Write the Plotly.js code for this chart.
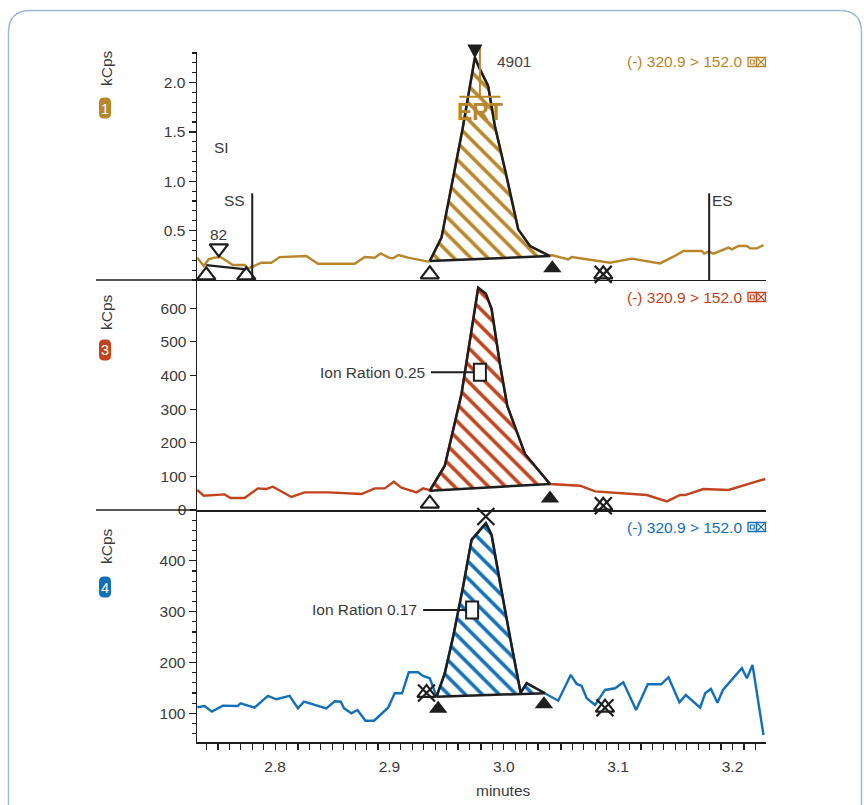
<!DOCTYPE html>
<html><head><meta charset="utf-8">
<script src="https://cdn.plot.ly/plotly-3.0.1.min.js"></script>
<style>html,body{margin:0;padding:0;background:#fff}#chart{width:864px;height:805px}</style>
</head><body><div id="chart"></div>
<script>
// ---------- data ----------
const t1 = [2.7319,2.7377,2.7418,2.747,2.7523,2.7573,2.763,2.7733,2.7762,2.7814,2.7879,2.7967,2.804,2.8273,2.8375,2.8696,2.8784,2.8871,2.8924,2.8994,2.9031,2.9081,2.9163,2.9338,
  2.9353,2.9455,2.9543,2.9639,2.9747,2.9791,2.9863,2.9922,3.001,3.0126,3.0229,3.0404,
  3.0419,3.0564,3.0594,3.0929,3.1119,3.1366,3.1483,3.1571,3.1732,3.1752,3.179,3.1834,3.1965,3.1995,3.2053,3.2126,3.2155,3.2214,3.2271];
const v1 = [0.226,0.141,0.209,0.226,0.232,0.192,0.151,0.151,0.115,0.141,0.175,0.175,0.232,0.243,0.165,0.165,0.232,0.226,0.27,0.226,0.219,0.253,0.226,0.186,
  0.192,0.429,0.952,1.527,2.255,2.136,1.966,1.561,1.122,0.513,0.344,0.242,
  0.253,0.209,0.232,0.175,0.216,0.168,0.236,0.293,0.293,0.267,0.287,0.267,0.328,0.31,0.344,0.344,0.32,0.32,0.354];
const peak1 = [2.9353, 3.0404];

const t2 = [2.7319,2.7376,2.7558,2.761,2.7733,2.7849,2.7923,2.7981,2.8142,2.8258,2.8462,2.8755,2.8871,2.8959,2.9038,2.9105,2.9237,2.9294,2.9338,
  2.9353,2.9484,2.963,2.9776,2.9843,2.9893,2.9966,3.003,3.0185,3.0404,
  3.0667,3.0798,3.125,3.1426,3.1542,3.1586,3.1746,3.1965,3.2287];
const v2 = [59.5,42.6,46.4,35.7,35.7,64.3,62.5,69.3,38.7,52.4,52.4,47.6,64.3,64.3,84.2,66.4,52.4,64.3,60.4,
  57.4,131.8,345.2,660.7,642.9,598.2,434.5,310.4,166.7,77.4,
  72.3,55.4,44.6,25.6,44.6,44.6,62.5,59.5,92.3];
const peak2 = [2.9353, 3.0404];

const t3 = [2.7319,2.7383,2.7447,2.7543,2.7674,2.7698,2.782,2.7937,2.8011,2.8127,2.82,2.8252,2.8448,2.8521,2.8574,2.8602,2.8667,2.872,2.879,2.8865,2.8988,2.9046,2.911,2.9169,2.925,2.9294,2.9353,
  2.9412,2.9484,2.9557,2.9644,2.9718,2.9843,2.9893,2.9966,3.0053,3.0147,3.02,3.036,
  3.0476,3.0585,3.0637,3.0681,3.0725,3.0798,3.0885,3.0973,3.1045,3.1157,3.1259,3.1376,3.144,3.1536,3.1592,3.1717,3.1761,3.1811,3.1869,3.1916,3.2082,3.2126,3.2175,3.2271];
const v3 = [111.8,114.4,103.3,115.1,114.4,119.7,111.0,134.1,127.6,134.1,109.8,122.8,109.8,123.6,122.8,109.8,100,106.5,85.4,85.4,111.0,139.4,139.4,180.7,180.7,173.4,168.9,
  132.7,178.7,250.8,349.2,441.1,474.0,451.0,355.9,250.8,140.6,159.1,139.4,
  124.8,175.4,157.7,153.7,129.5,116.3,145.9,149.2,161.0,106.5,157.1,157.1,170.9,121.7,136.0,111.0,139.4,147.9,120.9,145.9,188.6,168.9,195.1,57.3];
const peak3 = [2.9412, 3.036];

// peak / event markers
const m1OpenT = [2.7398, 2.7748, 2.9353], m1OpenV = [0.047, 0.047, 0.057];
const m1FillT = [3.0424], m1FillV = [0.118];
const m1XT = [3.087], m1XV = [0.057];
const m1ApexT = 2.9747;          // apex marker (drawn above the axis top)
const m1DownT = [2.7508], m1DownV = [0.32];
const small1T = [2.7398, 2.7748], small1V = [0.151, 0.108];
const eventSS = 2.78, eventES = 3.1796, eventTop = 0.878;
const ertT = 2.9791;

const m2OpenT = [2.9353], m2OpenV = [18.8];
const m2FillT = [3.0404], m2FillV = [34.5];
const m2XT = [3.087], m2XV = [12.8];
const ion2T = 2.9791, ion2V = 409.5, ion2Text = 'Ion Ration 0.25';

const m3XT = [2.9324, 3.0885, 2.9843], m3XV = [140, 111, 487];
const m3FillT = [2.9426, 3.0351], m3FillV = [109, 117.7];
const ion3T = 2.9723, ion3V = 303.3, ion3Text = 'Ion Ration 0.17';

const xTicks = [2.8, 2.9, 3.0, 3.1, 3.2];
const mrmText = '(-) 320.9 > 152.0';

// ---------- styling ----------
const GOLD = '#b8862a', RED = '#c0431d', BLUE = '#1370b8', INK = '#1e1e1e', TXT = '#3a3a3a';
const FONT = 'Liberation Sans, Arial, Helvetica, sans-serif';
const FS = 15.5;
const W = 864, H = 805, ML = 197, MR = 98, MT = 52, MB = 63;
const PW = W - ML - MR, PH = H - MT - MB;
const XR = [2.7317, 3.2293];
const D1 = [0.6696, 1], D2 = [0.3362, 0.6696], D3 = [0, 0.3348];
const R1 = [0, 2.31], R2 = [0, 684], R3 = [43.5, 498];

function pxX(p){ return (p - ML) / PW; }
function pxY(p){ return (H - MB - p) / PH; }
function X(t){ return (t - XR[0]) / (XR[1] - XR[0]); }
function Y(v, R, D){ return D[0] + (v - R[0]) / (R[1] - R[0]) * (D[1] - D[0]); }

function series(t, v, color, xa, ya){
  return {x: t, y: v, xaxis: xa, yaxis: ya, mode: 'lines', type: 'scatter',
    line: {color: color, width: 2.4}, hoverinfo: 'skip'};
}
function peakPoly(t, v, rng, color, xa, ya){
  const px = [], py = [];
  t.forEach((tt, i) => { if (tt >= rng[0] - 1e-9 && tt <= rng[1] + 1e-9) { px.push(tt); py.push(v[i]); } });
  px.push(px[0]); py.push(py[0]);
  return {x: px, y: py, xaxis: xa, yaxis: ya, mode: 'lines', type: 'scatter', fill: 'toself',
    fillcolor: 'rgba(255,255,255,0)',
    fillpattern: {shape: '\\', fgcolor: color, bgcolor: 'rgba(255,255,255,0)', size: 12, solidity: 0.3},
    line: {color: INK, width: 2.5}, hoverinfo: 'skip'};
}
function mk(t, v, sym, size, xa, ya, lw){
  return {x: t, y: v, xaxis: xa, yaxis: ya, mode: 'markers', type: 'scatter', cliponaxis: false,
    marker: {symbol: sym, size: size, color: INK, line: {color: INK, width: lw === undefined ? 2.2 : lw}},
    hoverinfo: 'skip'};
}

const data = [
  series(t1, v1, GOLD, 'x', 'y'),
  series(t2, v2, RED, 'x2', 'y2'),
  series(t3, v3, BLUE, 'x3', 'y3'),
  peakPoly(t1, v1, peak1, GOLD, 'x', 'y'),
  peakPoly(t2, v2, peak2, RED, 'x2', 'y2'),
  peakPoly(t3, v3, peak3, BLUE, 'x3', 'y3'),
  {x: small1T, y: small1V, xaxis: 'x', yaxis: 'y', mode: 'lines', type: 'scatter', line: {color: INK, width: 2.2}, hoverinfo: 'skip'},
  mk(m1OpenT, m1OpenV, 'triangle-up-open', 16, 'x', 'y'),
  mk(m1FillT, m1FillV, 'triangle-up', 16, 'x', 'y', 0),
  mk(m1XT, m1XV, 'triangle-up-open', 16, 'x', 'y'),
  mk(m1XT, m1XV, 'x-thin-open', 17, 'x', 'y'),
  mk(m1DownT, m1DownV, 'triangle-down-open', 16, 'x', 'y'),
  mk(m2OpenT, m2OpenV, 'triangle-up-open', 16, 'x2', 'y2'),
  mk(m2FillT, m2FillV, 'triangle-up', 16, 'x2', 'y2', 0),
  mk(m2XT, m2XV, 'triangle-up-open', 16, 'x2', 'y2'),
  mk(m2XT, m2XV, 'x-thin-open', 17, 'x2', 'y2'),
  mk(m3XT.slice(0, 2), m3XV.slice(0, 2), 'triangle-up-open', 16, 'x3', 'y3'),
  mk(m3XT, m3XV, 'x-thin-open', 17, 'x3', 'y3'),
  mk(m3FillT, m3FillV, 'triangle-up', 16, 'x3', 'y3', 0)
];

// ---------- shapes ----------
const shapes = [];
function line(x0, y0, x1, y1, color, w){ shapes.push({type: 'line', xref: 'paper', yref: 'paper', x0, y0, x1, y1, line: {color, width: w}}); }
function rect(x0, y0, x1, y1, color, w, fill){ shapes.push({type: 'rect', xref: 'paper', yref: 'paper', x0, y0, x1, y1, line: {color, width: w}, fillcolor: fill || 'rgba(0,0,0,0)'}); }

// outer rounded frame (pixel geometry)
(function(){
  const l = 8.5, t = 10.5, r = 861.5, b = 830, rad = 22;
  const p = 'M ' + pxX(l) + ',' + pxY(b) + ' L ' + pxX(l) + ',' + pxY(t + rad) +
    ' Q ' + pxX(l) + ',' + pxY(t) + ' ' + pxX(l + rad) + ',' + pxY(t) +
    ' L ' + pxX(r - rad) + ',' + pxY(t) +
    ' Q ' + pxX(r) + ',' + pxY(t) + ' ' + pxX(r) + ',' + pxY(t + rad) +
    ' L ' + pxX(r) + ',' + pxY(b);
  shapes.push({type: 'path', xref: 'paper', yref: 'paper', path: p, line: {color: '#9db9d6', width: 1.5}, layer: 'below'});
})();

// separator extensions to the left
line(pxX(96), Y(0, R1, D1), 0, Y(0, R1, D1), INK, 1.5);
line(pxX(96), Y(0, R2, D2), 0, Y(0, R2, D2), INK, 1.5);

// SS / ES event lines
line(X(eventSS), Y(0, R1, D1), X(eventSS), Y(eventTop, R1, D1), INK, 2);
line(X(eventES), Y(0, R1, D1), X(eventES), Y(eventTop, R1, D1), INK, 2);

// ERT marker (gold)
line(X(ertT), pxY(45), X(ertT), pxY(96.7), GOLD, 2);
line(X(ertT) - 20.5 / PW, pxY(96.7), X(ertT) + 20.5 / PW, pxY(96.7), GOLD, 2);

// apex (filled down triangle) of panel 1, above axis top
(function(){
  const cx = X(m1ApexT), top = pxY(44.5), bot = pxY(58.5), hw = 7.5 / PW;
  shapes.push({type: 'path', xref: 'paper', yref: 'paper',
    path: 'M ' + (cx - hw) + ',' + top + ' L ' + (cx + hw) + ',' + top + ' L ' + cx + ',' + bot + ' Z',
    fillcolor: INK, line: {width: 0}});
})();

// ion ratio boxes + leader lines
[[ion2T, Y(ion2V, R2, D2)], [ion3T, Y(ion3V, R3, D3)]].forEach(([t, yy]) => {
  const xc = X(t);
  rect(xc - 6 / PW, yy - 8.5 / PH, xc + 6 / PW, yy + 8.5 / PH, INK, 2, '#fff');
  line(xc - 49 / PW, yy, xc - 6 / PW, yy, INK, 2);
});

// badges + MRM icons
function badge(cx, cy, color){
  const w = 12, h = 21, r = 5;
  const l = cx - w / 2, rr = cx + w / 2, t = cy - h / 2, b = cy + h / 2;
  const p = 'M ' + pxX(l + r) + ',' + pxY(t) + ' L ' + pxX(rr - r) + ',' + pxY(t) +
    ' Q ' + pxX(rr) + ',' + pxY(t) + ' ' + pxX(rr) + ',' + pxY(t + r) +
    ' L ' + pxX(rr) + ',' + pxY(b - r) +
    ' Q ' + pxX(rr) + ',' + pxY(b) + ' ' + pxX(rr - r) + ',' + pxY(b) +
    ' L ' + pxX(l + r) + ',' + pxY(b) +
    ' Q ' + pxX(l) + ',' + pxY(b) + ' ' + pxX(l) + ',' + pxY(b - r) +
    ' L ' + pxX(l) + ',' + pxY(t + r) +
    ' Q ' + pxX(l) + ',' + pxY(t) + ' ' + pxX(l + r) + ',' + pxY(t) + ' Z';
  shapes.push({type: 'path', xref: 'paper', yref: 'paper', path: p, fillcolor: color, line: {width: 0}});
}
function icons(cy, color){
  rect(pxX(748), pxY(cy + 4.5), pxX(756.5), pxY(cy - 4.5), color, 1.3);
  rect(pxX(750.3), pxY(cy + 2), pxX(754.2), pxY(cy - 2), color, 1.2);
  rect(pxX(756.5), pxY(cy + 4.5), pxX(765.5), pxY(cy - 4.5), color, 1.3);
  line(pxX(757.5), pxY(cy - 3.5), pxX(764.5), pxY(cy + 3.5), color, 1.2);
  line(pxX(757.5), pxY(cy + 3.5), pxX(764.5), pxY(cy - 3.5), color, 1.2);
}
badge(105, 108, GOLD); badge(105, 350, RED); badge(105, 587, BLUE);
icons(62, GOLD); icons(297, RED); icons(527, BLUE);

// ---------- annotations ----------
const annotations = [];
function ann(x, y, text, o){
  annotations.push(Object.assign({xref: 'paper', yref: 'paper', x, y, text, showarrow: false,
    font: {family: FONT, size: FS, color: TXT}, xanchor: 'center', yanchor: 'middle'}, o || {}));
}
ann(pxX(106), pxY(68), 'kCps', {textangle: -90});
ann(pxX(106), pxY(312), 'kCps', {textangle: -90});
ann(pxX(106), pxY(546), 'kCps', {textangle: -90});
ann(pxX(105), pxY(108.5), '1', {font: {family: FONT, size: 14.5, color: '#fff'}});
ann(pxX(105), pxY(350.5), '3', {font: {family: FONT, size: 14.5, color: '#fff'}});
ann(pxX(105), pxY(587.5), '4', {font: {family: FONT, size: 14.5, color: '#fff'}});
ann(pxX(744), pxY(62), mrmText, {xanchor: 'right', font: {family: FONT, size: 15.5, color: GOLD}});
ann(pxX(744), pxY(297), mrmText, {xanchor: 'right', font: {family: FONT, size: 15.5, color: RED}});
ann(pxX(744), pxY(527), mrmText, {xanchor: 'right', font: {family: FONT, size: 15.5, color: BLUE}});
ann(pxX(221.5), pxY(147.5), 'SI');
ann(X(eventSS) - 5 / PW, pxY(200), 'SS', {xanchor: 'right'});
ann(X(eventES) + 1 / PW, pxY(200), 'ES', {xanchor: 'left'});
ann(X(m1DownT[0]), pxY(234.5), '82');
ann(pxX(514), pxY(62), '4901', {font: {family: FONT, size: FS, color: '#444'}});
ann(X(ertT), pxY(112), '<b>ERT</b>', {font: {family: FONT, size: 23, color: GOLD}});
ann(X(ion2T) - 53 / PW, Y(ion2V, R2, D2), ion2Text, {xanchor: 'right'});
ann(X(ion3T) - 53 / PW, Y(ion3V, R3, D3), ion3Text, {xanchor: 'right'});
ann(X(3.0), pxY(790), 'minutes');

// ---------- axes ----------
const xBase = {range: XR, showgrid: false, zeroline: false, showline: true, linecolor: INK, linewidth: 1.5,
  showticklabels: false, ticks: ''};
const yBase = {showgrid: false, zeroline: false, showline: true, linecolor: INK, linewidth: 1.5,
  ticks: 'outside', tickcolor: INK, tickwidth: 1.2, ticklen: 7,
  tickfont: {family: FONT, size: FS, color: TXT}};

const layout = {
  width: W, height: H, margin: {l: ML, r: MR, t: MT, b: MB, pad: 0},
  paper_bgcolor: '#fff', plot_bgcolor: 'rgba(0,0,0,0)', showlegend: false,
  font: {family: FONT, size: FS, color: TXT},
  xaxis: Object.assign({}, xBase, {anchor: 'y', domain: [0, 1]}),
  xaxis2: Object.assign({}, xBase, {anchor: 'y2', domain: [0, 1]}),
  xaxis3: Object.assign({}, xBase, {anchor: 'y3', domain: [0, 1], showticklabels: true,
    ticks: 'outside', ticklen: 6, tickwidth: 1.2, tickcolor: INK, ticklabelstandoff: 4,
    tickvals: xTicks, ticktext: xTicks.map(v => v.toFixed(1)),
    tickfont: {family: FONT, size: FS, color: TXT},
    minor: {tick0: 2.8, dtick: 0.01, ticks: 'outside', ticklen: 6, tickwidth: 1.2, tickcolor: INK, showgrid: false}}),
  yaxis: Object.assign({}, yBase, {anchor: 'x', domain: D1, range: R1,
    tickvals: [0.5, 1.0, 1.5, 2.0], ticktext: ['0.5', '1.0', '1.5', '2.0'],
    minor: {tick0: 0, dtick: 0.1, ticks: 'outside', ticklen: 4, tickwidth: 1.2, tickcolor: INK, showgrid: false}}),
  yaxis2: Object.assign({}, yBase, {anchor: 'x2', domain: D2, range: R2, ticklen: 6,
    tickvals: [0, 100, 200, 300, 400, 500, 600]}),
  yaxis3: Object.assign({}, yBase, {anchor: 'x3', domain: D3, range: R3,
    tickvals: [100, 200, 300, 400],
    minor: {tick0: 0, dtick: 20, ticks: 'outside', ticklen: 4, tickwidth: 1.2, tickcolor: INK, showgrid: false}}),
  shapes, annotations
};

Plotly.newPlot('chart', data, layout, {displayModeBar: false, staticPlot: true});
</script>
</body></html>
